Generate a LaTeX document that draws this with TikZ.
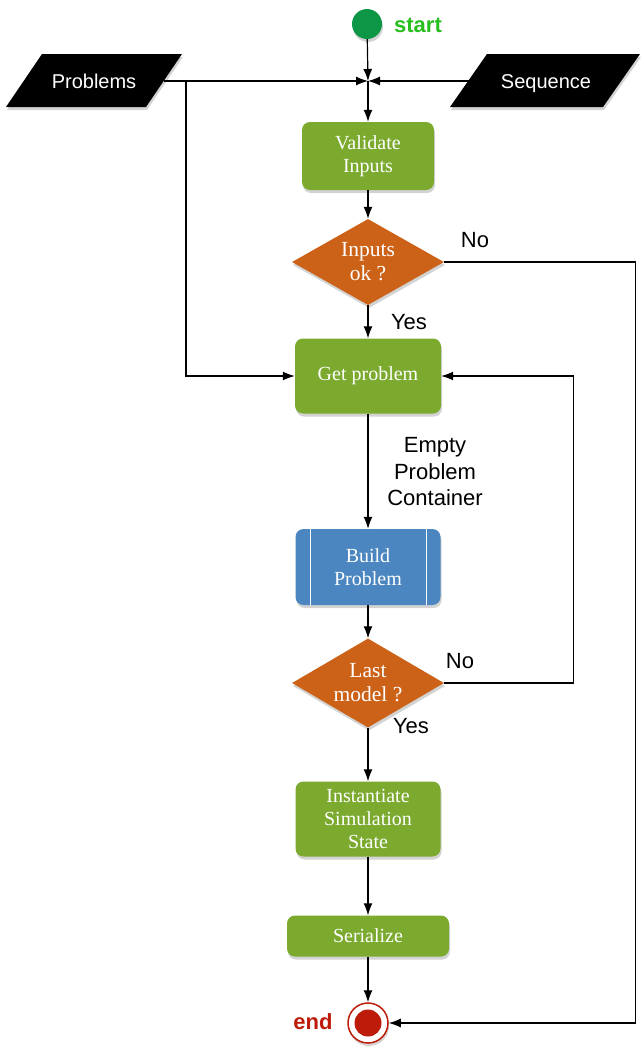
\documentclass[tikz,border=0pt]{standalone}
\usepackage{fontspec}
\setmainfont{Liberation Serif}
\setsansfont{Liberation Sans}
\usepackage{tikz}
\usetikzlibrary{shapes.geometric}
\usetikzlibrary{shadows}
\usetikzlibrary{arrows.meta}
\usepackage{xcolor}
\definecolor{boxgreen}{RGB}{123,170,47}
\definecolor{diaorange}{RGB}{204,98,24}
\definecolor{boxblue}{RGB}{75,134,192}
\definecolor{startgreen}{RGB}{12,150,70}
\definecolor{labelgreen}{RGB}{40,190,30}
\definecolor{endred}{RGB}{190,28,10}

\begin{document}
\begin{tikzpicture}[x=1pt, y=-1pt,
  shade/.style={drop shadow={shadow xshift=1pt, shadow yshift=-3pt, opacity=0.35}},
  arr/.style={-{Latex[length=12pt,width=9pt]}, line width=1.2pt},
  process/.style={rectangle, rounded corners=8pt, fill=boxgreen, shade, text=white,
    align=center, font=\fontsize{20}{23}\selectfont},
  decision/.style={diamond, fill=diaorange, shade, text=white, inner sep=-2pt, shape aspect=1.77,
    minimum width=152pt, align=center, font=\fontsize{21.5}{24}\selectfont},
  datain/.style={text=white, text height=14pt, text depth=0pt, font=\sffamily\fontsize{20}{24}\selectfont},
  lbl/.style={font=\sffamily\fontsize{22}{26.5}\selectfont, align=center}]
  \useasboundingbox (0,0) rectangle (640,1047);

  \node[circle, fill=startgreen, shade, minimum size=30pt, inner sep=0pt] (start) at (367,24) {};
  \node[font=\sffamily\bfseries\fontsize{22}{24}\selectfont, text=labelgreen] (startlbl) at (418,25) {start};

  \fill[shade] (6,107) -- (42,54) -- (182,54) -- (146,107) -- cycle;
  \node[datain] (prob) at (94,81) {Problems};
  \fill[shade] (450,107) -- (487,54) -- (640,54) -- (603,107) -- cycle;
  \node[datain] (seq) at (546,81) {Sequence};
  \coordinate (probout) at (164,81);
  \coordinate (seqout) at (469,81);
  \coordinate (pbranch) at (186,81);
  \coordinate (junc) at (368,81);

  \node[process, minimum width=132pt, minimum height=68pt] (valid) at (368,156) {Validate\\Inputs};
  \node[decision, minimum height=86pt] (ok) at (368,262) {Inputs\\ok ?};
  \node[process, minimum width=146pt, minimum height=75pt] (get) at (368,376) {Get problem};
  \node[rectangle, rounded corners=8pt, fill=boxblue, shade, text=white, align=center,
    font=\fontsize{20}{23}\selectfont, minimum width=145pt, minimum height=76pt] (build) at (368,567) {Build\\Problem};
  \draw[white, line width=1pt] ([xshift=15pt]build.north west) -- ([xshift=15pt]build.south west);
  \draw[white, line width=1pt] ([xshift=-14pt]build.north east) -- ([xshift=-14pt]build.south east);
  \node[decision, minimum height=89pt] (last) at (368,683) {Last\\model ?};
  \node[process, minimum width=145pt, minimum height=75pt] (inst) at (368,819) {Instantiate\\Simulation\\State};
  \node[process, minimum width=162pt, minimum height=41pt] (ser) at (368,936) {Serialize};
  \node[circle, fill=white, draw=endred, line width=1.5pt, shade, minimum size=40pt, inner sep=0pt] (end) at (368,1023) {};
  \fill[endred] (end.center) circle (13.5pt);
  \node[font=\sffamily\bfseries\fontsize{22}{26}\selectfont, text=endred] (endlbl) at (313,1022) {end};

  \draw[arr] (start) -- (junc);
  \draw[arr] (probout) -- (junc);
  \draw[arr] (seqout) -- (junc);
  \draw[arr] (junc) -- (valid);
  \draw[arr] (pbranch) |- (get.west);
  \draw[arr] (valid) -- (ok);
  \draw[arr] (ok.east) -- ++(191,0) |- (end.east);
  \node[lbl] (nolbl1) at (475,240) {No};
  \draw[arr] (ok) -- (get);
  \node[lbl] (yeslbl1) at (409,322) {Yes};
  \draw[arr] (get) -- (build);
  \node[lbl] (emptylbl) at (435,472) {Empty\\Problem\\Container};
  \draw[arr] (build) -- (last);
  \draw[arr] (last.east) -- ++(129,0) |- (get.east);
  \node[lbl] (nolbl2) at (460,661) {No};
  \draw[arr] (last) -- (inst);
  \node[lbl] (yeslbl2) at (411,726) {Yes};
  \draw[arr] (inst) -- (ser);
  \draw[arr] (ser) -- (end);
\end{tikzpicture}
\end{document}
